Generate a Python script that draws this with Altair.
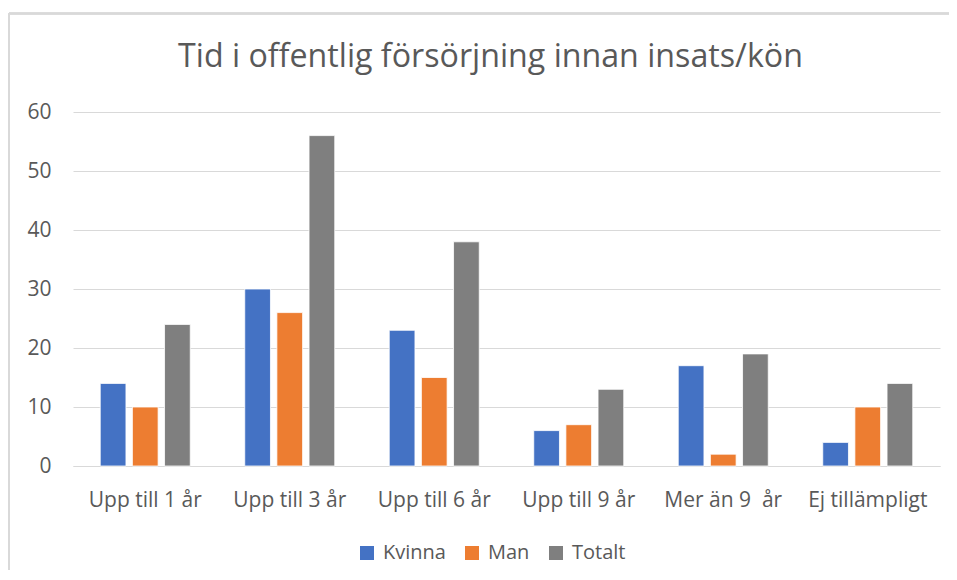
import altair as alt
import pandas as pd

categories = ["Upp till 1 år", "Upp till 3 år", "Upp till 6 år", "Upp till 9 år", "Mer än 9\u00a0 år", "Ej tillämpligt"]
series = ["Kvinna", "Man", "Totalt"]
kvinna = [14, 30, 23, 6, 17, 4]
man = [10, 26, 15, 7, 2, 10]
totalt = [24, 56, 38, 13, 19, 14]
colors = ["#4472C4", "#ED7D31", "#7F7F7F"]
y_ticks = [0, 10, 20, 30, 40, 50, 60]

rows = []
for s, vals in zip(series, [kvinna, man, totalt]):
    for c, v in zip(categories, vals):
        rows.append({"Kategori": c, "Serie": s, "Antal": v})
df = pd.DataFrame(rows)

FONT = "Open Sans"
TXT = "#595959"
GRID = "#D9D9D9"

W, H = 867, 354

bars = alt.Chart(df).mark_bar(stroke="white", strokeWidth=0.8).encode(
    x=alt.X("Kategori:N", sort=categories, title=None,
            scale=alt.Scale(paddingInner=0.377, paddingOuter=0.1885),
            axis=alt.Axis(labelAngle=0, labelFont=FONT, labelFontSize=21, labelColor=TXT,
                          labelPadding=23, ticks=False, domainColor=GRID, domainWidth=1.2,
                          grid=False)),
    xOffset=alt.XOffset("Serie:N", sort=series,
                        scale=alt.Scale(paddingInner=0.2, paddingOuter=0)),
    y=alt.Y("Antal:Q", title=None,
            scale=alt.Scale(domain=[0, 60], nice=False),
            axis=alt.Axis(values=y_ticks, labelFont=FONT, labelFontSize=21, labelColor=TXT,
                          labelPadding=22, ticks=False, domain=False,
                          gridColor=GRID, gridWidth=1.2)),
    color=alt.Color("Serie:N", sort=series,
                    scale=alt.Scale(domain=series, range=colors),
                    legend=alt.Legend(title=None, orient="none", direction="horizontal",
                                      legendX=284, legendY=431,
                                      symbolType="square", symbolSize=196,
                                      symbolStrokeWidth=0, symbolOpacity=1,
                                      labelFont=FONT, labelFontSize=20, labelColor=TXT,
                                      labelOffset=6, columnPadding=16)),
)

left_border = alt.Chart(df).mark_rule(color=GRID, strokeWidth=1.3).encode(
    x=alt.value(-64), y=alt.value(-98.5), y2=alt.value(H + 200)
)
top_border = alt.Chart(df).mark_rule(color=GRID, strokeWidth=1.3).encode(
    x=alt.value(-64), x2=alt.value(W + 100), y=alt.value(-98.5)
)

chart = alt.layer(left_border, top_border, bars).properties(
    width=W, height=H,
    autosize=alt.AutoSizeParams(type="none"),
    padding={"left": 65, "top": 104, "right": 9, "bottom": 104},
    title=alt.TitleParams("Tid i offentlig försörjning innan insats/kön",
                          font=FONT, fontSize=32.2, fontWeight="normal", color=TXT,
                          anchor="middle", frame="group", dx=-16, offset=-61),
).configure_view(stroke=None)

chart.save("out.html", embed_options={"renderer": "svg", "actions": False})
